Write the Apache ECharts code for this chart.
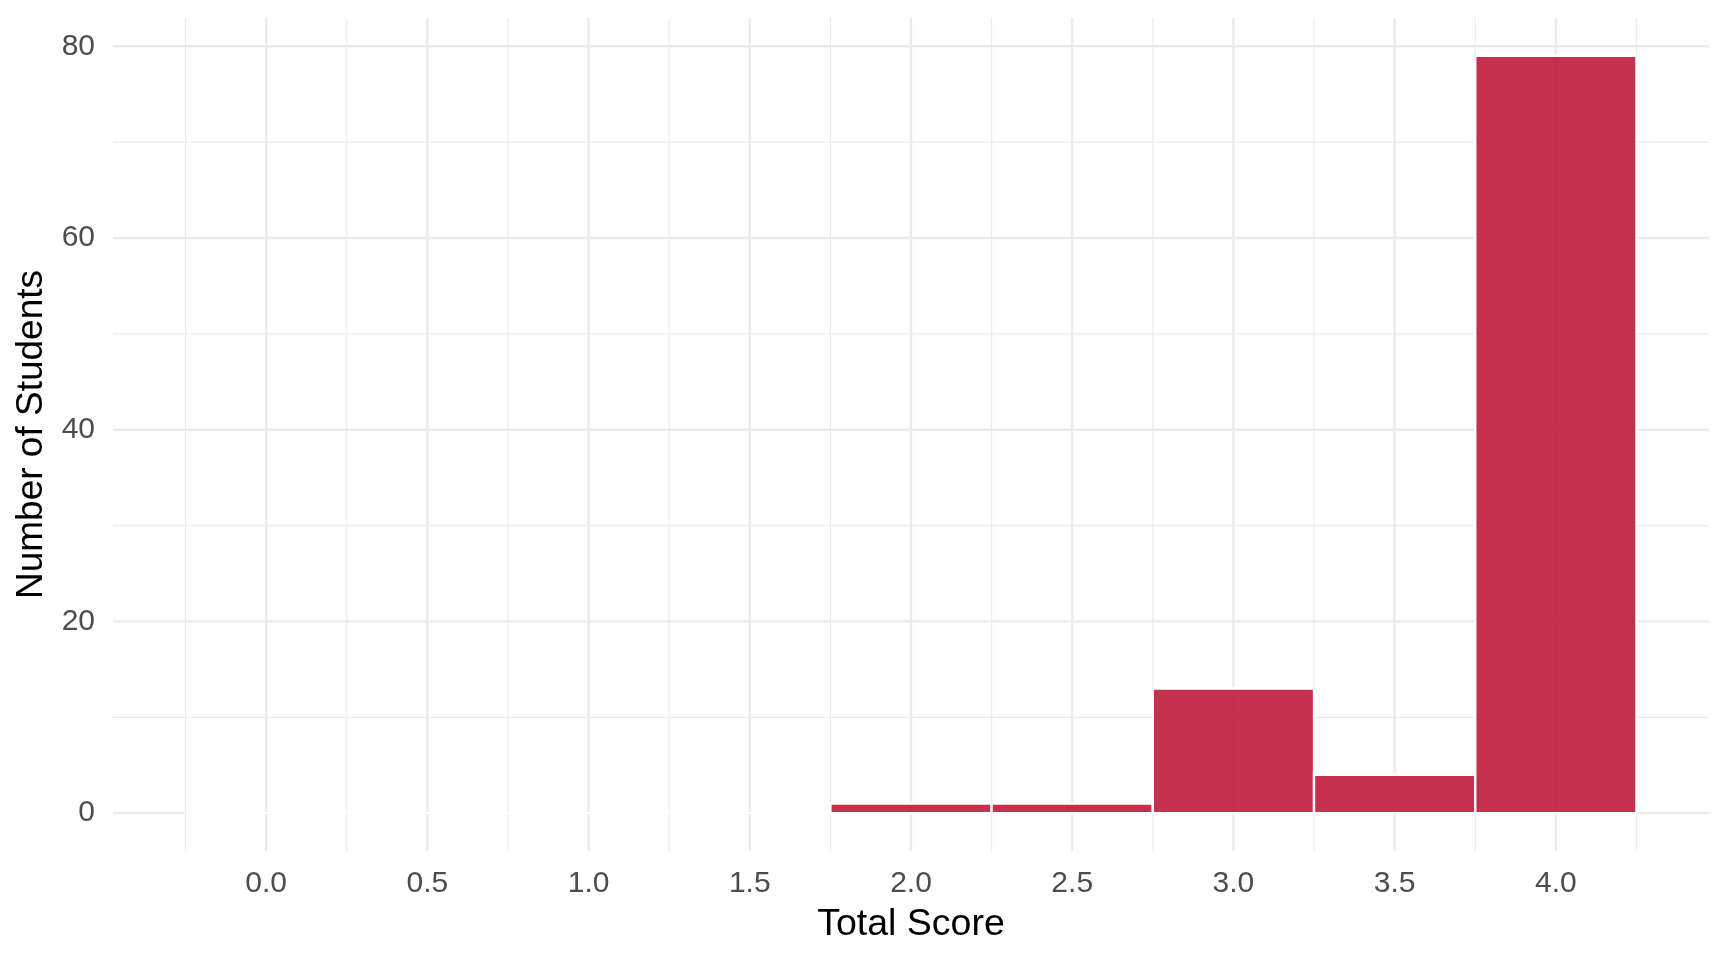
<!DOCTYPE html>
<html>
<head>
<meta charset="utf-8">
<script src="https://cdn.jsdelivr.net/npm/echarts@6/dist/echarts.min.js"></script>
<style>
  html, body { margin: 0; padding: 0; background: #ffffff; }
  #chart { width: 1728px; height: 960px; }
</style>
</head>
<body>
<div id="chart"></div>
<script>
// ---- data ----
const binStarts = [-0.25, 0.25, 0.75, 1.25, 1.75, 2.25, 2.75, 3.25, 3.75];
const binEnds   = [0.25, 0.75, 1.25, 1.75, 2.25, 2.75, 3.25, 3.75, 4.25];
const counts    = [0, 0, 0, 0, 1, 1, 13, 4, 79];
const xTicks      = [0, 0.5, 1, 1.5, 2, 2.5, 3, 3.5, 4];
const xMinorTicks = [-0.25, 0.25, 0.75, 1.25, 1.75, 2.25, 2.75, 3.25, 3.75, 4.25];
const yTicks      = [0, 20, 40, 60, 80];
const yMinorTicks = [10, 30, 50, 70];
const xTitle = 'Total Score';
const yTitle = 'Number of Students';
const xLimits = [-0.475, 4.475];
const yLimits = [-3.95, 82.95];

// ---- chart ----
const FONT = "'Liberation Sans', Arial, sans-serif";
const GRID_COLOR = '#EBEBEB';
const chart = echarts.init(document.getElementById('chart'), null, { renderer: 'canvas' });

const vLines = xTicks.map(v => [v, 1]).concat(xMinorTicks.map(v => [v, 0]));
const hLines = yTicks.map(v => [v, 1]).concat(yMinorTicks.map(v => [v, 0]));
const bars = binStarts.map((s, i) => [s, binEnds[i], counts[i]]);

function vLineItem(params, api) {
  const cs = params.coordSys;
  const x = api.coord([api.value(0), 0])[0];
  const major = api.value(1) === 1;
  return {
    type: 'line',
    shape: { x1: x, y1: cs.y, x2: x, y2: cs.y + cs.height },
    style: { stroke: GRID_COLOR, lineWidth: major ? 2.4 : 1.2 }
  };
}
function hLineItem(params, api) {
  const cs = params.coordSys;
  const y = api.coord([0, api.value(0)])[1];
  const major = api.value(1) === 1;
  return {
    type: 'line',
    shape: { x1: cs.x, y1: y, x2: cs.x + cs.width, y2: y },
    style: { stroke: GRID_COLOR, lineWidth: major ? 2.4 : 1.2 }
  };
}
function barItem(params, api) {
  const p0 = api.coord([api.value(0), api.value(2)]);
  const p1 = api.coord([api.value(1), 0]);
  return {
    type: 'rect',
    shape: { x: p0[0], y: p0[1], width: p1[0] - p0[0], height: p1[1] - p0[1] },
    style: { fill: 'rgba(191,25,57,0.9)', stroke: '#ffffff', lineWidth: 2.4 }
  };
}

const option = {
  backgroundColor: '#ffffff',
  animation: false,
  grid: { left: 113, right: 19, top: 18, bottom: 109, containLabel: false },
  xAxis: {
    type: 'value',
    min: xLimits[0], max: xLimits[1],
    name: xTitle,
    nameLocation: 'middle',
    nameGap: 55,
    nameTextStyle: { color: '#000000', fontSize: 37.5, fontFamily: FONT },
    axisLine: { show: false },
    axisTick: { show: false },
    splitLine: { show: false },
    axisLabel: {
      customValues: xTicks,
      formatter: v => Number(v).toFixed(1),
      color: '#4D4D4D', fontSize: 30, fontFamily: FONT, margin: 18
    }
  },
  yAxis: {
    type: 'value',
    min: yLimits[0], max: yLimits[1],
    name: yTitle,
    nameLocation: 'middle',
    nameGap: 55,
    nameRotate: 90,
    nameTextStyle: { color: '#000000', fontSize: 37, fontFamily: FONT },
    axisLine: { show: false },
    axisTick: { show: false },
    splitLine: { show: false },
    axisLabel: {
      customValues: yTicks,
      formatter: v => String(Math.round(v)),
      color: '#4D4D4D', fontSize: 30, fontFamily: FONT, margin: 18,
      padding: [8, 0, 0, 0]
    }
  },
  series: [
    { type: 'custom', data: hLines, renderItem: hLineItem, z: 1, silent: true, encode: { y: 0 } },
    { type: 'custom', data: vLines, renderItem: vLineItem, z: 1, silent: true, encode: { x: 0 } },
    { type: 'custom', data: bars, renderItem: barItem, z: 2, clip: false, encode: { x: [0, 1], y: 2 } }
  ]
};
chart.setOption(option);
</script>
</body>
</html>
